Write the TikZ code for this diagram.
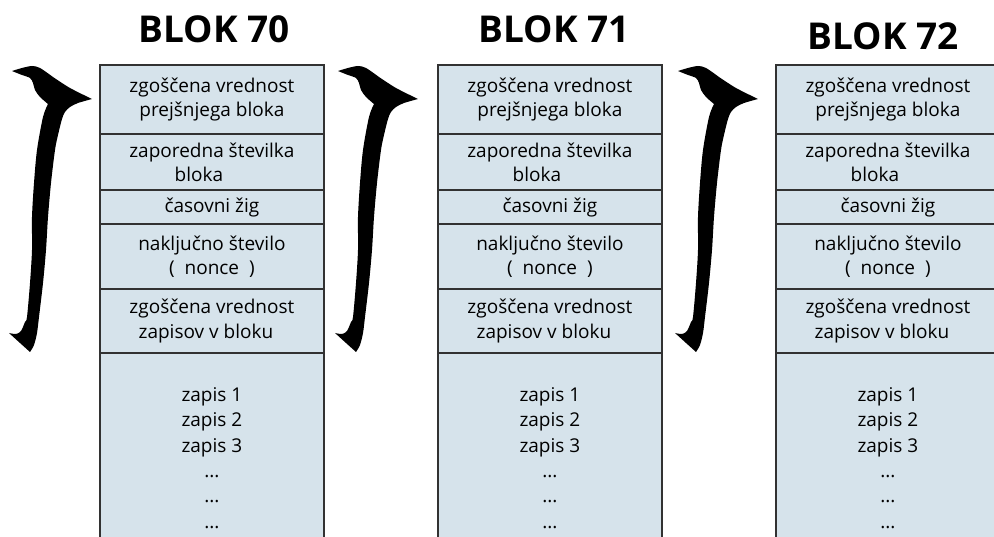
\documentclass[tikz,border=0pt]{standalone}
\usepackage{fontspec}
\setmainfont{Open Sans}
\definecolor{cellfill}{RGB}{214,227,235}
\definecolor{celldraw}{RGB}{50,50,50}
\begin{document}
\begin{tikzpicture}[x=1pt,y=-1pt,
  cell/.style={draw=celldraw,line width=1.8pt,fill=cellfill,minimum width=224pt,
    inner sep=0pt,anchor=north west,align=center,font=\fontsize{19}{24.5}\selectfont},
  blocktitle/.style={font=\fontsize{37}{40}\selectfont\bfseries},
  hook/.style={fill=black}]
\useasboundingbox (0,0) rectangle (994,537);
\clip (0,0) rectangle (994,537);
\foreach \i/\x in {0/99,1/437,2/775}{
  \node[cell,minimum height=69.5pt] (b\i-1) at (\x,64) {zgoščena vrednost\\prejšnjega bloka};
  \node[cell,minimum height=56pt] (b\i-2) at (\x,133.5) {zaporedna številka\\bloka\rule{26pt}{0pt}};
  \node[cell,minimum height=34pt] (b\i-3) at (\x,189.5) {časovni žig};
  \node[cell,minimum height=65pt] (b\i-4) at (\x,223.5) {naključno število\\(\ \ nonce\ \ )};
  \node[cell,minimum height=63.5pt] (b\i-5) at (\x,288.5) {zgoščena vrednost\\zapisov v bloku\rule{12pt}{0pt}};
  \node[cell,minimum height=210pt,font=\fontsize{19}{25.4}\selectfont] (b\i-6) at (\x,352) {zapis 1\\zapis 2\\zapis 3\\...\\...\\...};
}
\node[blocktitle] (t0) at (214,29) {BLOK 70};
\node[blocktitle] (t1) at (554,29) {BLOK 71};
\node[blocktitle] (t2) at (883,36) {BLOK 72};
\foreach \s in {0,326,666}{
\begin{scope}[shift={(\s,0)}]
\fill[hook] (12,71)
  -- plot[smooth] coordinates {(12,71) (22,68) (32,66) (40,68) (53,77)}
  -- plot[smooth] coordinates {(53,77) (70,88) (92,99)}
  -- plot[smooth] coordinates {(92,99) (78,103) (70,107) (65,112) (62,119) (58,135) (55,150) (51,183) (48,217) (46,250) (43,283) (39,317) (37,333) (34,345) (30,352)}
  -- plot[smooth] coordinates {(30,352) (20,343) (9,333)}
  -- plot[smooth] coordinates {(9,333) (16,334) (21,331) (25,322) (27,317) (30,283) (32,250) (32,217) (34,183) (37,150) (43,117) (48,104)}
  -- plot[smooth] coordinates {(48,104) (40,97) (35,90) (33,83) (30,78) (22,75) (12,71)}
  -- cycle;
\end{scope}}
\end{tikzpicture}
\end{document}
